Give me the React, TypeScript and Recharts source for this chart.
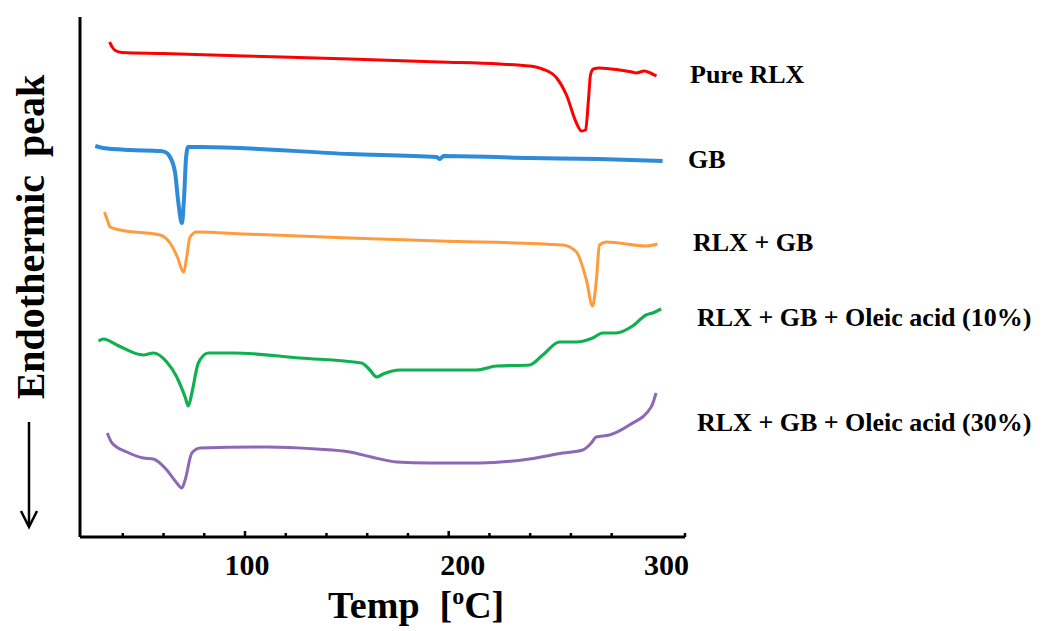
import React from 'react'
import { LineChart, Line, XAxis, YAxis } from 'recharts'

// DSC thermograms, temperature in degC, heat flow in arbitrary (offset) units
const pureRlx = [
  { t: 33.5, hf: 495 }, { t: 34.8, hf: 490 }, { t: 36.3, hf: 486.5 }, { t: 39.6, hf: 484.5 },
  { t: 60, hf: 483.5 }, { t: 100, hf: 481 }, { t: 151.5, hf: 478 }, { t: 195.6, hf: 475 },
  { t: 225, hf: 473 }, { t: 239.7, hf: 471 }, { t: 246, hf: 468 }, { t: 253, hf: 459 },
  { t: 257.8, hf: 442 }, { t: 262.7, hf: 414 }, { t: 265.2, hf: 406 }, { t: 267.2, hf: 407 },
  { t: 268.6, hf: 437 }, { t: 269.6, hf: 462 }, { t: 271, hf: 468 }, { t: 274, hf: 469 },
  { t: 283.8, hf: 467 }, { t: 290, hf: 465 }, { t: 292, hf: 464 }, { t: 296, hf: 466 },
  { t: 299, hf: 464 }, { t: 302, hf: 461 },
]

const gb = [
  { t: 26.5, hf: 391 }, { t: 30.4, hf: 389 }, { t: 43.6, hf: 387 }, { t: 58.3, hf: 386 },
  { t: 60.8, hf: 385 }, { t: 63.2, hf: 380 }, { t: 65.7, hf: 364 }, { t: 67.3, hf: 334 },
  { t: 69, hf: 314 }, { t: 70.1, hf: 340 }, { t: 71.1, hf: 380 }, { t: 72.1, hf: 390 },
  { t: 78, hf: 390 }, { t: 151.5, hf: 383 }, { t: 194, hf: 380 }, { t: 195.6, hf: 378 },
  { t: 197.5, hf: 381 }, { t: 239.7, hf: 379 }, { t: 274, hf: 378 }, { t: 305, hf: 376 },
]

const rlxGb = [
  { t: 31, hf: 325 }, { t: 32.4, hf: 317 }, { t: 33.8, hf: 310 }, { t: 38.7, hf: 307 },
  { t: 58.3, hf: 302 }, { t: 63.2, hf: 294 }, { t: 66.8, hf: 280 }, { t: 69.8, hf: 265 },
  { t: 71.4, hf: 280 }, { t: 73, hf: 300 }, { t: 76.3, hf: 305 }, { t: 100, hf: 303 },
  { t: 151.5, hf: 299 }, { t: 195.6, hf: 296 }, { t: 255.9, hf: 292 }, { t: 262.7, hf: 285 },
  { t: 267.6, hf: 257 }, { t: 270.6, hf: 231 }, { t: 272.5, hf: 257 }, { t: 274, hf: 292 },
  { t: 277.5, hf: 295 }, { t: 297, hf: 291 }, { t: 302.5, hf: 293 },
]

const oleic10 = [
  { t: 28.1, hf: 196 }, { t: 30.5, hf: 198 }, { t: 37.1, hf: 192 }, { t: 50.1, hf: 182 },
  { t: 55, hf: 184 }, { t: 61.6, hf: 175 }, { t: 66.5, hf: 160 }, { t: 70.6, hf: 140 },
  { t: 72.2, hf: 131 }, { t: 73.9, hf: 144 }, { t: 77.1, hf: 174 }, { t: 82, hf: 184 },
  { t: 94.3, hf: 184 }, { t: 127, hf: 179 }, { t: 157.2, hf: 174 }, { t: 161.3, hf: 167 },
  { t: 164.6, hf: 160 }, { t: 167.8, hf: 163 }, { t: 176, hf: 167 }, { t: 213.6, hf: 167 },
  { t: 223.4, hf: 171 }, { t: 239.7, hf: 172 }, { t: 246.2, hf: 182 }, { t: 254.4, hf: 195 },
  { t: 262.6, hf: 195 }, { t: 270.7, hf: 199 }, { t: 275.6, hf: 204 }, { t: 282.2, hf: 204 },
  { t: 290.3, hf: 211 }, { t: 296.9, hf: 222 }, { t: 300.1, hf: 224 }, { t: 304.3, hf: 228 },
]

const oleic30 = [
  { t: 32.4, hf: 104 }, { t: 34.7, hf: 94 }, { t: 42, hf: 85 }, { t: 50.1, hf: 79 },
  { t: 55, hf: 78 }, { t: 61.6, hf: 67 }, { t: 66.5, hf: 54 }, { t: 69, hf: 49 },
  { t: 70.6, hf: 57 }, { t: 73.9, hf: 84 }, { t: 78, hf: 89 }, { t: 110.6, hf: 90 },
  { t: 135, hf: 88 }, { t: 151.5, hf: 85 }, { t: 162, hf: 80 }, { t: 174.4, hf: 75 },
  { t: 190.7, hf: 74 }, { t: 215.2, hf: 74 }, { t: 239.7, hf: 78 }, { t: 256, hf: 84 },
  { t: 265.8, hf: 87 }, { t: 270, hf: 94 }, { t: 272.4, hf: 100 }, { t: 278.9, hf: 102 },
  { t: 288.7, hf: 112 }, { t: 299.4, hf: 130 }, { t: 301.8, hf: 144 },
]

const seriesNames = [
  'Pure RLX',
  'GB',
  'RLX + GB',
  'RLX + GB + Oleic acid (10%)',
  'RLX + GB + Oleic acid (30%)',
]

const minorTicks = [40, 60, 80, 120, 140, 160, 180, 220, 240, 260, 280, 316]
const majorTicks = [100, 200, 300]

const FONT = '"Liberation Serif", "Times New Roman", serif'

const series = [
  { data: pureRlx, color: '#FF0000', width: 3 },
  { data: gb, color: '#2E8BD8', width: 4 },
  { data: rlxGb, color: '#FF9B3F', width: 3 },
  { data: oleic10, color: '#10B050', width: 3.2 },
  { data: oleic30, color: '#8D68B6', width: 3 },
]

// where each name sits to the right of its trace
const namePos = [
  { x: 682, y: 75 },
  { x: 680, y: 160 },
  { x: 685, y: 243 },
  { x: 689, y: 318 },
  { x: 689, y: 423 },
]

const labelShift: Record<number, number> = { 100: 2, 200: 14, 300: 14 }

const AxisTick = (props: any) => {
  const { x, y, payload } = props
  const v = payload.value
  const major = majorTicks.includes(v)
  return (
    <g>
      {v !== 300 && (
        <line x1={x} x2={x} y1={y} y2={y - (major ? 6 : 4)} stroke="#000" strokeWidth={2.5} />
      )}
      {major && (
        <text
          x={x + (labelShift[v] || 0)}
          y={y + 38}
          textAnchor="middle"
          fontFamily={FONT}
          fontWeight="bold"
          fontSize={30}
          fill="#000"
        >
          {v}
        </text>
      )}
    </g>
  )
}

export default function App() {
  return (
    <div style={{ width: 1035, height: 623 }}>
      <LineChart
        width={1035}
        height={623}
        margin={{ top: 9, right: 358, bottom: 0, left: 70 }}
      >
        <XAxis
          type="number"
          dataKey="t"
          domain={[19, 316]}
          ticks={[...minorTicks, ...majorTicks].sort((a, b) => a - b)}
          tick={<AxisTick />}
          tickLine={false}
          tickSize={0}
          tickMargin={0}
          height={94}
          interval={0}
          axisLine={{ stroke: '#000', strokeWidth: 3 }}
          allowDataOverflow
        />
        <YAxis
          type="number"
          domain={[0, 520]}
          width={2}
          tick={false}
          tickLine={false}
          axisLine={{ stroke: '#000', strokeWidth: 3 }}
        />
        {series.map((s, i) => (
          <Line
            key={seriesNames[i]}
            data={s.data}
            dataKey="hf"
            type="monotone"
            stroke={s.color}
            strokeWidth={s.width}
            dot={false}
            activeDot={false}
            isAnimationActive={false}
          />
        ))}
        {seriesNames.map((name, i) => (
          <text
            key={`name-${name}`}
            x={namePos[i].x}
            y={namePos[i].y}
            fontFamily={FONT}
            fontWeight="bold"
            fontSize={26}
            fill="#000"
          >
            {name}
          </text>
        ))}
        <text
          x={320}
          y={610}
          fontFamily={FONT}
          fontWeight="bold"
          fontSize={38}
          fill="#000"
        >
          <tspan>Temp</tspan>
          <tspan dx={20}>[</tspan>
          <tspan fontSize={24} dy={-14}>o</tspan>
          <tspan dy={14}>C]</tspan>
        </text>
        <text
          x={36}
          y={229}
          transform="rotate(-90, 36, 229)"
          textAnchor="middle"
          fontFamily={FONT}
          fontWeight="bold"
          fontSize={40}
          fill="#000"
        >
          <tspan>Endothermic</tspan>
          <tspan dx={18}>peak</tspan>
        </text>
        <line x1={21} y1={414} x2={21} y2={518} stroke="#000" strokeWidth={2.5} />
        <polyline points="13,503 21,519 29,503" fill="none" stroke="#000" strokeWidth={2.5} />
      </LineChart>
    </div>
  )
}
